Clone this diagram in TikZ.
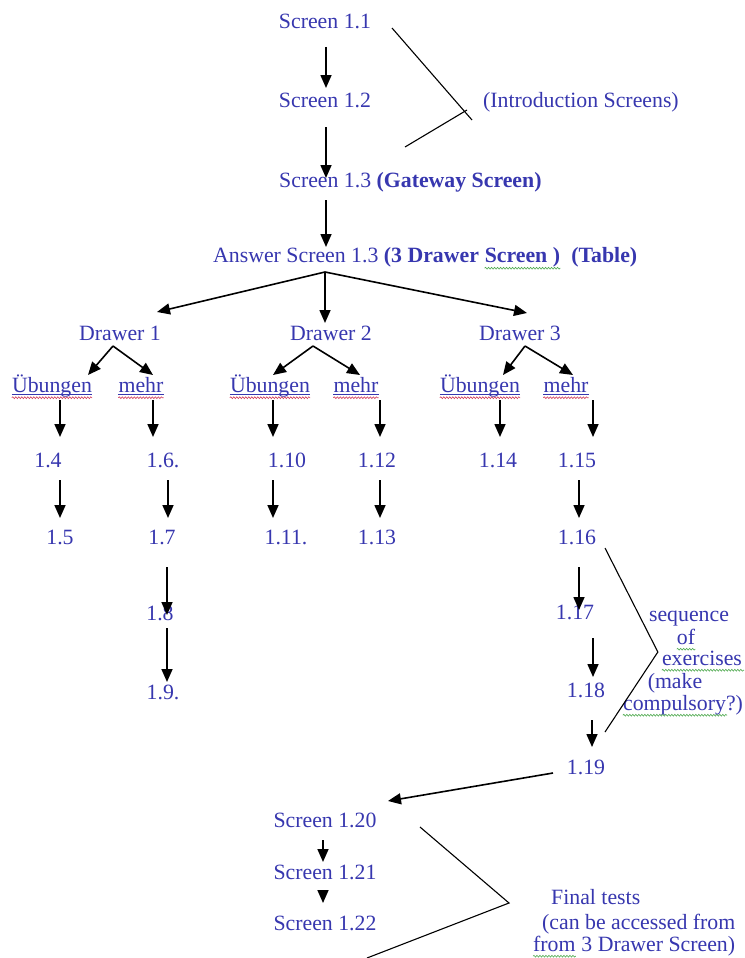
\documentclass[tikz,border=0pt]{standalone}
\usepackage{fontspec}
\setmainfont{Liberation Serif}
\usetikzlibrary{arrows.meta,calc,decorations.pathmorphing}
\definecolor{txtblue}{RGB}{55,55,175}
\definecolor{wavred}{RGB}{210,60,90}
\definecolor{wavgreen}{RGB}{80,170,80}
\tikzset{
  lbl/.style={text=txtblue, inner sep=0pt, text height=15pt, text depth=1pt, font=\fontsize{21.8}{23}\selectfont},
  arr/.style={line width=1.6pt, -{Triangle[length=13pt,width=11pt]}},
  brk/.style={line width=1.1pt},
  wavyred/.style={wavred, line width=0.6pt, decorate, decoration={snake, segment length=3pt, amplitude=0.9pt}},
  wavygreen/.style={wavgreen, line width=0.6pt, decorate, decoration={snake, segment length=3pt, amplitude=0.9pt}}
}
\begin{document}
\begin{tikzpicture}[x=1pt,y=-1pt]
\useasboundingbox[fill=white] (0,0) rectangle (744,958);
% top sequence
\node[lbl] (s11) at (325,22) {Screen 1.1};
\node[lbl] (s12) at (325,100) {Screen 1.2};
\node[lbl,anchor=west] (s13) at (279,180) {Screen 1.3 \textbf{(Gateway Screen)}};
\node[lbl,anchor=west] (ans) at (213,255) {Answer Screen 1.3 \textbf{(3 Drawer\kern.25em}};
\node[lbl,anchor=base west] (ansb) at (ans.base east) {\textbf{Screen )}};
\node[lbl,anchor=base west] (ansc) at (ansb.base east) {\kern.5em\textbf{(Table)}};
\node[lbl,anchor=west] (intro) at (483,100) {(Introduction Screens)};
\draw[arr] ($(s11)+(1,25)$) -- ($(s12)+(1,-12)$);
\draw[arr] ($(s12)+(1,27)$) -- ($(s13.west)+(47,-2)$);
\draw[arr] ($(s13.west)+(47,20)$) -- ($(ans.west)+(113,-8)$);
% intro bracket
\draw[brk] ($(s11)+(67,6)$) -- ($(intro.west)+(-11,20)$);
\draw[brk] ($(s12)+(80,47)$) -- ($(intro.west)+(-16,10)$);
\draw[wavygreen] ($(ansb.south west)+(0,5)$) -- ($(ansb.south east)+(0,5)$);
% drawers
\node[lbl] (d1) at (120,333) {Drawer 1};
\node[lbl] (d2) at (331,333) {Drawer 2};
\node[lbl] (d3) at (520,333) {Drawer 3};
\coordinate (apex) at ($(ans.west)+(112,17)$);
\draw[arr] (apex) -- ($(d1)+(37,-21)$);
\draw[arr] (apex) -- ($(d2)+(-6,-10)$);
\draw[arr] (apex) -- ($(d3)+(7,-20)$);
% sub items
\node[lbl] (ub1) at (52,385) {Übungen};
\node[lbl] (m1) at (141,385) {mehr};
\node[lbl] (ub2) at (270,385) {Übungen};
\node[lbl] (m2) at (356,385) {mehr};
\node[lbl] (ub3) at (480,385) {Übungen};
\node[lbl] (m3) at (566,385) {mehr};
\draw[arr] ($(d1)+(-7,13)$) -- ($(ub1)+(36,-10)$);
\draw[arr] ($(d1)+(-7,13)$) -- ($(m1)+(12,-10)$);
\draw[arr] ($(d2)+(-18,13)$) -- ($(ub2)+(3,-10)$);
\draw[arr] ($(d2)+(-18,13)$) -- ($(m2)+(4,-10)$);
\draw[arr] ($(d3)+(5,13)$) -- ($(ub3)+(23,-10)$);
\draw[arr] ($(d3)+(5,13)$) -- ($(m3)+(7,-10)$);
% underlines
\foreach \n in {ub1,m1,ub2,m2,ub3,m3}{
  \draw[txtblue, line width=0.5pt] ($(\n.south west)+(0,1.5)$) -- ($(\n.south east)+(0,1.5)$);
  \draw[wavyred] ($(\n.south west)+(0,4.5)$) -- ($(\n.south east)+(0,4.5)$);
}
% numbered screens
\node[lbl] (n14) at (48,460) {1.4};
\node[lbl] (n16) at (163,460) {1.6.};
\node[lbl] (n110) at (287,460) {1.10};
\node[lbl] (n112) at (377,460) {1.12};
\node[lbl] (n114) at (498,460) {1.14};
\node[lbl] (n115) at (577,460) {1.15};
\node[lbl] (n15) at (60,537) {1.5};
\node[lbl] (n17) at (162,537) {1.7};
\node[lbl] (n111) at (286,537) {1.11.};
\node[lbl] (n113) at (377,537) {1.13};
\node[lbl] (n116) at (577,537) {1.16};
\node[lbl] (n18) at (160,613) {1.8};
\node[lbl] (n19) at (163,692) {1.9.};
\node[lbl] (n117) at (575,612) {1.17};
\node[lbl] (n118) at (586,690) {1.18};
\node[lbl] (n119) at (586,767) {1.19};
\draw[arr] ($(ub1)+(8,15)$) -- ($(n14)+(12,-23)$);
\draw[arr] ($(m1)+(12,15)$) -- ($(n16)+(-10,-23)$);
\draw[arr] ($(n14)+(12,20)$) -- ($(n15)+(0,-19)$);
\draw[arr] ($(n16)+(5,20)$) -- ($(n17)+(6,-19)$);
\draw[arr] ($(n17)+(5,30)$) -- ($(n18)+(7,2)$);
\draw[arr] ($(n18)+(7,15)$) -- ($(n19)+(4,-10)$);
\draw[arr] ($(ub2)+(3,15)$) -- ($(n110)+(-14,-23)$);
\draw[arr] ($(n110)+(-14,20)$) -- ($(n111)+(-13,-19)$);
\draw[arr] ($(m2)+(24,15)$) -- ($(n112)+(3,-23)$);
\draw[arr] ($(n112)+(3,20)$) -- ($(n113)+(3,-19)$);
\draw[arr] ($(ub3)+(20,15)$) -- ($(n114)+(2,-23)$);
\draw[arr] ($(m3)+(27,15)$) -- ($(n115)+(16,-23)$);
\draw[arr] ($(n115)+(2,20)$) -- ($(n116)+(2,-19)$);
\draw[arr] ($(n116)+(2,30)$) -- ($(n117)+(4,-2)$);
\draw[arr] ($(n117)+(18,26)$) -- ($(n118)+(7,-13)$);
\draw[arr] ($(n118)+(6,30)$) -- ($(n119)+(6,-20)$);
% sequence bracket and label
\node[lbl] (seq1) at (689,614) {sequence};
\node[lbl] (seq2) at (686,637) {of};
\node[lbl] (seq3) at (702,658) {exercises};
\node[lbl] (seq4) at (675,681) {(make};
\node[lbl] (seq5) at (683,703) {compulsory?)};
\draw[brk] ($(n116)+(28,11)$) -- ($(seq3.west)+(-4,-6)$) -- ($(n119)+(19,-35)$);
\draw[wavygreen] ($(seq2.south west)+(0,4)$) -- ($(seq2.south east)+(0,4)$);
\draw[wavygreen] ($(seq3.south west)+(0,4)$) -- ($(seq3.south east)+(2,4)$);
\draw[wavygreen] ($(seq5.south west)+(0,4)$) -- ($(seq5.south east)+(-16,4)$);
% final screens
\node[lbl] (s120) at (325,820) {Screen 1.20};
\node[lbl] (s121) at (325,872) {Screen 1.21};
\node[lbl] (s122) at (325,923) {Screen 1.22};
\draw[arr] ($(n119)+(-33,6)$) -- ($(s120)+(63,-19)$);
\draw[arr] ($(s120)+(-2,20)$) -- ($(s121)+(-2,-10)$);
\draw[arr] ($(s121)+(-2,18)$) -- ($(s122)+(-2,-20)$);
% final tests
\node[lbl,anchor=west] (ft1) at (551,897) {Final tests};
\node[lbl,anchor=west] (ft2) at (542,922) {(can be accessed from};
\node[lbl,anchor=west] (ft3a) at (533,944) {from};
\node[lbl,anchor=base west] (ft3b) at (ft3a.base east) {\kern.25em 3 Drawer Screen)};
\draw[brk] ($(s120)+(95,7)$) -- ($(ft1.west)+(-42,6)$) -- ($(s122)+(42,35)$);
\draw[wavygreen] ($(ft3a.south west)+(0,4)$) -- ($(ft3a.south east)+(0,4)$);
\end{tikzpicture}
\end{document}
